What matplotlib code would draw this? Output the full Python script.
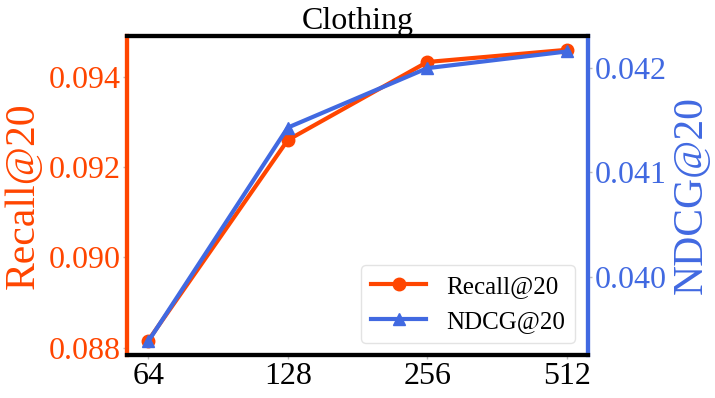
import matplotlib
matplotlib.use('Agg')
import matplotlib.pyplot as plt
import numpy as np

#+++++++++++++++++++++++++++++++++++++++++++++++++++++++++++++++++++++++++++++#

DIMS = ['64', '128', '256', '512']
RECALL = [0.08816, 0.0926, 0.09433, 0.0946]
NDCG = [0.03938, 0.04143, 0.04200, 0.04216]

C_RECALL = '#FF4500'
C_NDCG = '#4169E1'

#+++++++++++++++++++++++++++++++++++++++++++++++++++++++++++++++++++++++++++++#

plt.rcParams['font.family'] = ['Liberation Serif', 'DejaVu Serif']
plt.rcParams['mathtext.fontset'] = 'stix'

fig = plt.figure( figsize = ( 7.15, 3.98 ), dpi = 100 )
ax = fig.add_axes( [ 0.178, 0.108, 0.644, 0.802 ] )
ax2 = ax.twinx( )

x = np.arange( len( DIMS ) )
l1, = ax.plot( x, RECALL, '-o', color = C_RECALL, lw = 3, ms = 9, label = 'Recall@20' )
l2, = ax2.plot( x, NDCG, '-^', color = C_NDCG, lw = 3, ms = 9, label = 'NDCG@20' )

ax.set_xlim( -0.15, 3.15 )
ax.set_ylim( 0.08784, 0.09491 )
ax2.set_ylim( 0.03925, 0.04231 )

ax.set_xticks( x )
ax.set_xticklabels( DIMS, fontsize = 23 )
ax.set_yticks( [ 0.088, 0.090, 0.092, 0.094 ] )
ax2.set_yticks( [ 0.040, 0.041, 0.042 ] )
ax.tick_params( axis = 'y', labelsize = 23, labelcolor = C_RECALL, color = '#bbbbbb', length = 3, width = 1, pad = 2 )
ax2.tick_params( axis = 'y', labelsize = 23, labelcolor = C_NDCG, color = '#bbbbbb', length = 3, width = 1, pad = 2 )
ax.tick_params( axis = 'x', color = '#bbbbbb', length = 3, width = 1, pad = 2 )

ax.set_ylabel( 'Recall@20', fontsize = 30, color = C_RECALL, labelpad = 4 )
ax2.set_ylabel( 'NDCG@20', fontsize = 30, color = C_NDCG, labelpad = 4 )
ax.set_title( 'Clothing', fontsize = 23, pad = 2 )

for a in ( ax, ax2 ):
    a.spines[ 'top' ].set_linewidth( 3 )
    a.spines[ 'bottom' ].set_linewidth( 3 )
    a.spines[ 'top' ].set_color( 'black' )
    a.spines[ 'bottom' ].set_color( 'black' )
    a.spines[ 'left' ].set_color( C_RECALL )
    a.spines[ 'left' ].set_linewidth( 3 )
    a.spines[ 'right' ].set_color( C_NDCG )
    a.spines[ 'right' ].set_linewidth( 3 )

ax2.legend( handles = [ l1, l2 ], loc = 'lower right', fontsize = 18, framealpha = 0.8,
            edgecolor = '#dddddd', fancybox = True, handlelength = 2.2, borderpad = 0.4 )

fig.savefig( 'out.png', dpi = 100 )
